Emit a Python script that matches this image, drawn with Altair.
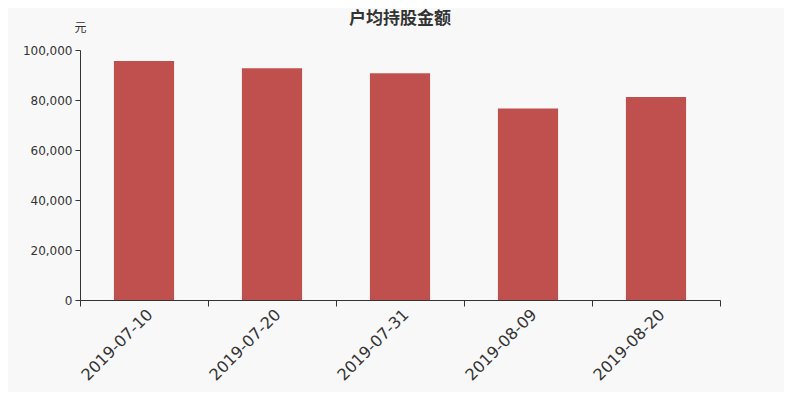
import altair as alt
import pandas as pd

dates = ["2019-07-10", "2019-07-20", "2019-07-31", "2019-08-09", "2019-08-20"]
values = [95600, 92700, 90700, 76600, 81200]

df = pd.DataFrame({"date": dates, "value": values})

bars = alt.Chart(df).mark_bar(color="#c0504d", width=alt.RelativeBandSize(0.47)).encode(
    x=alt.X("date:N", sort=None,
            scale=alt.Scale(paddingInner=0, paddingOuter=0),
            axis=alt.Axis(title=None, labelAngle=-45, labelFontSize=16,
                          labelFont="DejaVu Sans", labelColor="#333",
                          tickBand="extent", tickSize=6, tickColor="#333",
                          domainColor="#333", labelPadding=0)),
    y=alt.Y("value:Q", scale=alt.Scale(domain=[0, 100000], nice=False),
            axis=alt.Axis(title="元", titleAngle=0, titleX=6, titleY=-16,
                          titleAlign="right", titleFont="Noto Sans CJK SC",
                          titleFontWeight="normal", titleFontSize=12, titleColor="#333",
                          values=[0, 20000, 40000, 60000, 80000, 100000],
                          format=",d", labelFontSize=12, labelFont="DejaVu Sans",
                          labelColor="#333", tickSize=5, tickColor="#333",
                          domainColor="#333", grid=False, labelPadding=3)),
)

chart = bars.properties(
    width=640, height=250,
    title=alt.TitleParams("户均持股金额", font="Noto Sans CJK SC", fontSize=17,
                          fontWeight="bold", color="#333", anchor="middle",
                          offset=2, dy=9),
    background="#f8f8f8",
    autosize="none",
    padding={"left": 72, "top": 42, "right": 64, "bottom": 92},
).configure_view(stroke=None)

chart.save("out.html", embed_options={"renderer": "svg", "actions": False})
